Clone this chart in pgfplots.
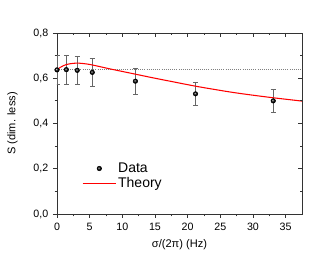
\documentclass[border=0pt]{standalone}
\usepackage{fontspec}
\setmainfont{Liberation Sans}
\usepackage{pgfplots}
\pgfplotsset{compat=1.18}
\begin{document}
\begin{tikzpicture}[x=1pt,y=1pt]
\pgfplotsset{
  common/.style={
    scale only axis, width=183.75pt, height=135.75pt,
    xmin=0, xmax=37.5, ymin=0, ymax=0.8,
    xtick={0,5,...,35}, minor x tick num=1,
    ytick={0,0.2,0.4,0.6,0.8}, minor y tick num=1,
    major tick length=3pt, minor tick length=1.8pt,
    axis line style={line width=0.7pt, black!80},
    every tick/.style={line width=0.6pt, black!80},
  }
}
\begin{axis}[common, name=ax,
  tick align=outside, xtick pos=left, ytick pos=left,
  /pgf/number format/assume math mode=true,
  tick label style={font=\fontsize{8}{9}\selectfont},
  yticklabel style={/pgf/number format/.cd, fixed, fixed zerofill, precision=1, use comma},
  xticklabel style={/pgf/number format/.cd, fixed, precision=0},
  label style={font=\fontsize{8.3}{10}\selectfont},
  xlabel={σ/(2π) (Hz)},
  ylabel={S (dim. less)},
  ylabel style={yshift=5pt},
  legend style={draw=none, fill=none, font=\fontsize{10.5}{12}\selectfont,
    at={(axis cs:3.8,0.235)}, anchor=north west, row sep=0pt,
    inner sep=0pt, nodes={inner sep=1.2pt}},
  legend cell align=left,
  legend image code/.code={\draw[mark repeat=2,mark phase=2,#1] plot coordinates {(0cm,0cm)(0.44cm,0cm)(0.88cm,0cm)};},
]
\addplot[densely dotted, gray, line width=0.6pt, forget plot] coordinates {(0,0.638) (37.5,0.638)};
\addplot[only marks, mark=ball, ball color=black, mark size=1.7pt,
  error bars/.cd, y dir=both, y explicit,
  error bar style={black!60, line width=0.5pt},
  error mark options={rotate=90, mark size=1.9pt, black!60, line width=0.5pt}]
  table[x=x, y=y, y error=e] {
x y e
0 0.637 0.063
1.43 0.638 0.063
3.1 0.635 0.064
5.4 0.626 0.062
12.0 0.587 0.056
21.2 0.531 0.051
33.1 0.500 0.050
};
\addlegendentry{Data}
\addplot[red, line width=0.8pt, smooth] table {
0 0.637
0.5 0.648
1 0.656
1.5 0.661
2 0.664
3 0.667
4 0.665
5 0.661
6 0.655
8 0.642
10 0.630
12 0.618
15 0.600
18 0.583
21 0.566
24 0.551
27 0.537
30 0.525
33 0.514
36 0.504
37.5 0.499
};
\addlegendentry{Theory}
\end{axis}
\begin{axis}[common,
  tick align=inside, xtick pos=right, ytick pos=right,
  xticklabels={}, yticklabels={}, axis line style={draw=none}]
\end{axis}
\path[use as bounding box] ([xshift=-42.75pt, yshift=-40.5pt]ax.south west) rectangle ([xshift=24pt, yshift=24.75pt]ax.north east);
\end{tikzpicture}
\end{document}
